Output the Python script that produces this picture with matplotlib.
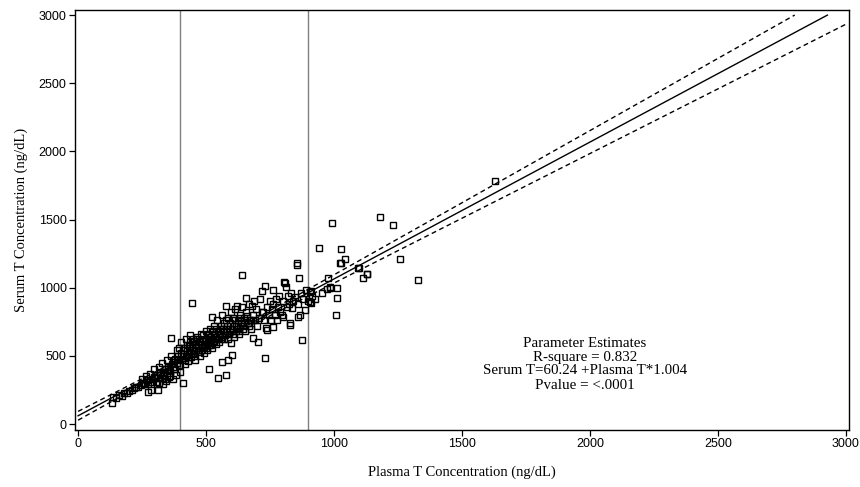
import numpy as np
import matplotlib
matplotlib.use("Agg")
import matplotlib.pyplot as plt

# Paired testosterone measurements (ng/dL)
plasma_t = [
    132, 138, 150, 160, 172, 180, 190, 200, 210, 218, 228, 236, 245, 255, 262, 270, 275, 285, 290, 298,
    305, 310, 314, 318, 322, 326, 330, 335, 338, 342, 346, 350, 355, 360, 363, 366, 370, 374, 378, 382,
    386, 390, 394, 398, 402, 405, 409, 412, 416, 420, 424, 428, 432, 436, 440, 444, 447, 448, 452, 456,
    460, 464, 468, 472, 476, 480, 484, 488, 492, 496, 500, 504, 508, 512, 513, 516, 520, 522, 524, 528,
    532, 536, 540, 544, 548, 550, 554, 558, 561, 562, 566, 570, 574, 578, 578, 580, 584, 587, 590, 594,
    596, 598, 600, 602, 606, 610, 614, 618, 620, 624, 628, 632, 636, 639, 642, 646, 650, 655, 658, 662,
    666, 670, 674, 678, 682, 685, 688, 692, 696, 700, 704, 708, 712, 717, 720, 724, 728, 730, 730, 734,
    737, 740, 744, 748, 752, 756, 760, 763, 763, 768, 772, 776, 780, 785, 790, 795, 800, 802, 805, 809,
    812, 816, 820, 824, 828, 828, 832, 835, 840, 848, 854, 854, 858, 861, 865, 867, 870, 874, 880, 887,
    892, 898, 906, 906, 909, 911, 915, 926, 941, 952, 974, 978, 984, 984, 992, 1008, 1010, 1013, 1023, 1026,
    1026, 1043, 1095, 1099, 1115, 1128, 1130, 1180, 1232, 1258, 1329, 1630,
    250, 258, 265, 272, 280, 288, 295, 302, 308, 315, 320, 328, 332, 340, 348, 352, 358, 365, 372, 380,
    385, 392, 396, 400, 404, 410, 414, 418, 422, 426, 430, 434, 438, 442, 446, 450, 454, 458, 462, 466,
    470, 474, 478, 482, 486, 490, 494, 498, 502, 506, 510, 514, 518, 526, 530, 534, 538, 542, 546, 552,
    556, 560, 564, 568, 572, 576, 582, 586, 592, 604, 608, 612, 616, 622, 626, 630, 634, 644, 648, 652,
    660, 668, 676,
]
serum_t = [
    152, 200, 190, 210, 205, 230, 225, 240, 250, 262, 268, 275, 285, 300, 296, 320, 237, 250, 330, 345,
    310, 360, 249, 300, 380, 335, 290, 350, 400, 315, 372, 420, 345, 390, 629, 440, 330, 470, 405, 360,
    450, 500, 430, 380, 520, 470, 298, 545, 440, 500, 580, 460, 530, 600, 490, 560, 890, 620, 520, 470,
    580, 640, 540, 600, 500, 660, 560, 620, 520, 590, 680, 540, 620, 580, 403, 700, 640, 787, 560, 610,
    720, 660, 590, 760, 335, 640, 700, 620, 457, 800, 680, 740, 650, 359, 866, 720, 780, 469, 660, 740,
    592, 820, 506, 700, 780, 640, 840, 720, 866, 760, 680, 800, 740, 1093, 860, 700, 780, 927, 820, 740,
    880, 760, 700, 866, 800, 629, 900, 760, 840, 720, 604, 780, 920, 976, 820, 824, 760, 1012, 482, 702,
    690, 860, 800, 900, 760, 840, 880, 983, 714, 800, 920, 760, 860, 940, 820, 800, 900, 787, 1044, 1037,
    1007, 860, 940, 880, 726, 739, 960, 848, 900, 934, 1166, 1179, 880, 787, 1073, 800, 960, 616, 920, 836,
    980, 900, 897, 970, 890, 978, 940, 917, 1293, 960, 988, 1068, 1007, 995, 1472, 802, 922, 1000, 1179, 1281,
    1183, 1208, 1142, 1147, 1073, 1100, 1098, 1516, 1462, 1208, 1054, 1785,
    330, 300, 350, 290, 370, 310, 400, 340, 290, 420, 360, 450, 380, 330, 470, 400, 350, 500, 420, 480,
    540, 470, 560, 430, 600, 500, 560, 470, 620, 540, 490, 570, 650, 520, 590, 540, 610, 500, 560, 620,
    580, 530, 610, 590, 540, 650, 570, 610, 560, 660, 600, 640, 580, 680, 600, 640, 700, 620, 680, 600,
    660, 720, 640, 700, 620, 760, 680, 620, 700, 660, 720, 760, 680, 700, 740, 660, 780, 720, 760, 680,
    790, 720, 760,
]

# Fitted regression and its 95% confidence band
intercept = 60.24
slope = 1.004
band_center = 520.0
band_halfwidth_min = 14.0
band_growth = 0.056

# Reference cut-offs on plasma T
cutoffs = [400, 900]

x_ticks = [0, 500, 1000, 1500, 2000, 2500, 3000]
y_ticks = [0, 500, 1000, 1500, 2000, 2500, 3000]
y_max = 3000

stats_lines = [
    "Parameter Estimates",
    "R-square = 0.832",
    "Serum T=60.24 +Plasma T*1.004",
    "Pvalue = <.0001",
]

fig = plt.figure(figsize=(8.6, 4.87), dpi=100)
ax = fig.add_axes([75 / 860, 1 - 430 / 487, 774 / 860, 420 / 487])
ax.set_xlim(-12, 3012)
ax.set_ylim(-44, 3037)

for c in cutoffs:
    ax.axvline(c, color="#808080", lw=1.0, zorder=1)

ax.plot(plasma_t, serum_t, linestyle="none", marker="s", markersize=4.8,
        markerfacecolor="none", markeredgecolor="black", markeredgewidth=1.0, zorder=3)

xs = np.linspace(0, 3000, 1201)
fit = intercept + slope * xs
hw = np.sqrt(band_halfwidth_min ** 2 + (band_growth * (xs - band_center)) ** 2)
for yy, ls in [(fit, "-"), (fit + hw, (0, (3.5, 2.5))), (fit - hw, (0, (3.5, 2.5)))]:
    m = yy <= y_max
    ax.plot(xs[m], yy[m], color="black", lw=1.0, linestyle=ls, zorder=2)

for sp in ax.spines.values():
    sp.set_linewidth(1.0)
    sp.set_color("black")

ax.set_xticks(x_ticks)
ax.set_yticks(y_ticks)
ax.tick_params(direction="out", length=4, width=0.9, pad=2,
               labelsize=9, top=False, right=False)
for lab in ax.get_xticklabels() + ax.get_yticklabels():
    lab.set_family("Liberation Sans")

ax.set_xlabel("Plasma T Concentration (ng/dL)", family="Liberation Serif",
              fontsize=10.5, labelpad=11)
ax.set_ylabel("Serum T Concentration (ng/dL)", family="Liberation Serif",
              fontsize=10.5, labelpad=8)

text_y = [594, 491, 389, 279]
for s, ty in zip(stats_lines, text_y):
    ax.text(1980, ty, s, ha="center", va="center", family="Liberation Serif",
            fontsize=10.8, zorder=4)

fig.savefig("out.png", dpi=100)
